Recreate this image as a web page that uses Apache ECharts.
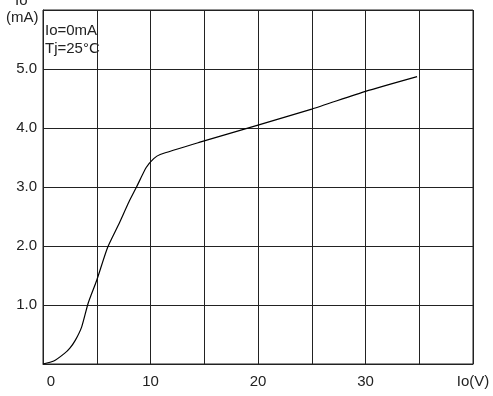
<!DOCTYPE html>
<html>
<head>
<meta charset="utf-8">
<script src="https://cdn.jsdelivr.net/npm/echarts@6/dist/echarts.min.js"></script>
<style>html,body{margin:0;padding:0;background:#fff}#c{width:493px;height:396px}</style>
</head>
<body>
<div id="c"></div>
<script>
// Output voltage Vo (V) vs output current (mA)
var voltage = [0, 1, 2, 2.5, 3, 3.6, 4.2, 5, 6, 7, 8, 8.7, 9.6, 10.3, 10.9, 14.6, 20, 25, 30, 34.8];
var current = [0, 0.05, 0.18, 0.27, 0.4, 0.63, 1.03, 1.42, 1.97, 2.35, 2.75, 3.0, 3.33, 3.48, 3.55, 3.76, 4.05, 4.32, 4.62, 4.87];
var xTickLabels = {0: '0', 10: '10', 20: '20', 30: '30', 40: 'Io(V)'};
var yTickLabels = {1: '1.0', 2: '2.0', 3: '3.0', 4: '4.0', 5: '5.0'};

var pts = voltage.map(function (v, i) { return [v, current[i]]; });
var font = 'Liberation Sans, Arial, sans-serif';
var fs = 15;
var chart = echarts.init(document.getElementById('c'));
chart.setOption({
  animation: false,
  grid: {left: 43, right: 20, top: 10, bottom: 32, show: true, borderColor: '#222', borderWidth: 1},
  xAxis: {
    type: 'value', min: 0, max: 40, interval: 5,
    axisLine: {show: true, lineStyle: {color: '#222', width: 1}},
    axisTick: {show: false},
    splitLine: {show: true, lineStyle: {color: '#222', width: 1}},
    axisLabel: {
      margin: 10, color: '#222', fontFamily: font, fontSize: fs,
      showMinLabel: true, showMaxLabel: true,
      formatter: function (v) {
        if (v === 0) return '{z|0}';
        return xTickLabels[v] !== undefined ? xTickLabels[v] : '';
      },
      rich: {z: {padding: [0, 0, 0, 16], fontFamily: font, fontSize: fs, color: '#222'}}
    }
  },
  yAxis: {
    type: 'value', min: 0, max: 6, interval: 1,
    axisLine: {show: true, lineStyle: {color: '#222', width: 1}},
    axisTick: {show: false},
    splitLine: {show: true, lineStyle: {color: '#222', width: 1}},
    axisLabel: {
      margin: 6, color: '#222', fontFamily: font, fontSize: fs,
      formatter: function (v) { return yTickLabels[v] || ''; }
    }
  },
  graphic: [
    {type: 'text', left: 15, top: -7, style: {text: 'Io', font: fs + 'px ' + font, fill: '#222'}},
    {type: 'text', left: 6, top: 10, style: {text: '(mA)', font: fs + 'px ' + font, fill: '#222'}},
    {type: 'text', left: 45, top: 23, style: {text: 'Io=0mA', font: fs + 'px ' + font, fill: '#222'}},
    {type: 'text', left: 45, top: 41, style: {text: 'Tj=25°C', font: fs + 'px ' + font, fill: '#222'}}
  ],
  series: [{
    type: 'line', data: pts, showSymbol: false, smooth: 0.2,
    lineStyle: {color: '#000', width: 1.2}
  }]
});
</script>
</body>
</html>
